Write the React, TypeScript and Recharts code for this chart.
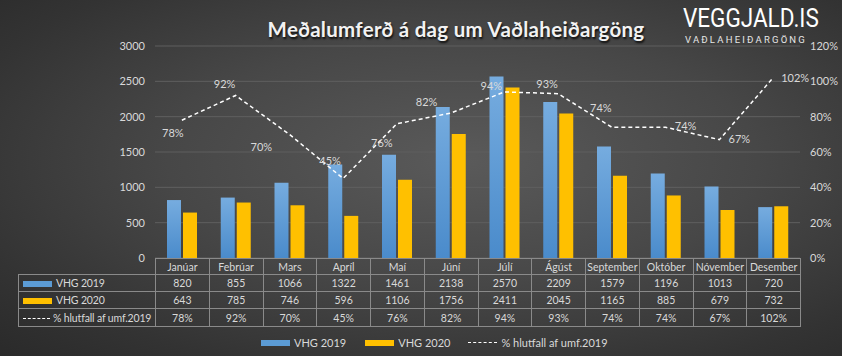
import React from 'react';
import {
  ComposedChart,
  Bar,
  Line,
  XAxis,
  YAxis,
  CartesianGrid,
  LabelList,
} from 'recharts';

const months = [
  'Janúar', 'Febrúar', 'Mars', 'Apríl', 'Maí', 'Júní',
  'Júlí', 'Ágúst', 'September', 'Október', 'Nóvember', 'Desember',
];
const vhg2019 = [820, 855, 1066, 1322, 1461, 2138, 2570, 2209, 1579, 1196, 1013, 720];
const vhg2020 = [643, 785, 746, 596, 1106, 1756, 2411, 2045, 1165, 885, 679, 732];
const hlutfall = [78, 92, 70, 45, 76, 82, 94, 93, 74, 74, 67, 102];
const leftTicks = [0, 500, 1000, 1500, 2000, 2500, 3000];
const rightTicks = [0, 20, 40, 60, 80, 100, 120];

const TEXT = '#d9d9d9';
const BLUE = '#5b9bd5';
const YELLOW = '#ffc000';
const BORDER = '#8a8a8a';
const FONT = 'Lato, "Open Sans", sans-serif';

// where Excel put each % label relative to its point
const labelOffsets: [number, number][] = [
  [-9, 14], [-11, -10], [-28, 14], [-13, -16], [-15, 20], [-24, -10],
  [-13, -5], [-11, -8], [-11, -18], [20, 0], [20, 1], [22, 1],
];

const PctLabel = (props: any) => {
  const { x, y, value, index } = props;
  const [dx, dy] = labelOffsets[index] || [0, -10];
  return (
    <text
      x={x + dx}
      y={y + dy}
      fill={TEXT}
      fontSize={11}
      textAnchor="middle"
      dominantBaseline="middle"
      fontFamily={FONT}
    >
      {value}%
    </text>
  );
};

const cell: React.CSSProperties = {
  border: `1px solid ${BORDER}`,
  textAlign: 'center',
  padding: 0,
  color: TEXT,
  fontSize: 10.5,
  whiteSpace: 'nowrap',
  overflow: 'hidden',
};

const labelCell: React.CSSProperties = {
  ...cell,
  textAlign: 'left',
  paddingLeft: 4,
  letterSpacing: -0.15,
};

const Swatch = ({ color, mr = 4 }: { color: string; mr?: number }) => (
  <span
    style={{
      display: 'inline-block',
      width: 29,
      height: 6,
      background: color,
      marginRight: mr,
      verticalAlign: 'middle',
    }}
  />
);

const Dash = ({ mr = 4, w = 29 }: { mr?: number; w?: number }) => (
  <span
    style={{
      display: 'inline-block',
      width: w,
      borderTop: '1.5px dashed #ffffff',
      marginRight: mr,
      verticalAlign: 'middle',
    }}
  />
);

export default function App() {
  const data = months.map((m, i) => ({
    month: m,
    v2019: vhg2019[i],
    v2020: vhg2020[i],
    pct: hlutfall[i],
  }));

  return (
    <div
      style={{
        position: 'absolute',
        left: 0,
        top: 0,
        width: 842,
        height: 356,
        overflow: 'hidden',
        fontFamily: FONT,
        background:
          'radial-gradient(ellipse at 55% 45%, #5a5a5a 0%, #474747 45%, #333333 80%, #2a2a2a 100%)',
      }}
    >
      <div
        style={{
          position: 'absolute',
          left: 206,
          width: 500,
          top: 17,
          textAlign: 'center',
          color: '#f2f2f2',
          fontWeight: 700,
          fontSize: 20.5,
          letterSpacing: 0.3,
          textShadow: '1px 2px 2px rgba(0,0,0,0.8)',
        }}
      >
        Meðalumferð á dag um Vaðlaheiðargöng
      </div>
      <div
        style={{
          position: 'absolute',
          left: 683,
          top: 5,
          color: '#ffffff',
          fontSize: 25,
          fontFamily: 'Roboto, sans-serif',
          lineHeight: '28px',
          whiteSpace: 'nowrap',
          transform: 'scaleX(0.9)',
          transformOrigin: 'left top',
        }}
      >
        VEGGJALD.IS
      </div>
      <div
        style={{
          position: 'absolute',
          left: 685,
          width: 140,
          top: 34,
          color: '#e6e6e6',
          fontSize: 9.5,
          letterSpacing: 2.2,
          fontFamily: 'Roboto, sans-serif',
          whiteSpace: 'nowrap',
        }}
      >
        VAÐLAHEIÐARGÖNG
      </div>

      <div style={{ position: 'absolute', left: 0, top: 0 }}>
        <ComposedChart
          width={842}
          height={272}
          data={data}
          margin={{ top: 46, right: 0, bottom: 14, left: 95 }}
          barGap={2}
          barSize={14}
        >
          <defs>
            <linearGradient id="blueGrad" x1="0" y1="0" x2="0" y2="1">
              <stop offset="0%" stopColor="#76acdf" />
              <stop offset="100%" stopColor="#4a8bcb" />
            </linearGradient>
          </defs>
          <CartesianGrid yAxisId="left" vertical={false} stroke="#5f5f5f" />
          <XAxis dataKey="month" hide />
          <YAxis
            yAxisId="left"
            domain={[0, 3000]}
            ticks={leftTicks}
            interval={0}
            width={60}
            axisLine={false}
            tickLine={false}
            tickMargin={4}
            tick={{ fill: TEXT, fontSize: 11, fontFamily: FONT }}
          />
          <YAxis
            yAxisId="right"
            orientation="right"
            domain={[0, 120]}
            ticks={rightTicks}
            interval={0}
            tickFormatter={(v: number) => `${v}%`}
            width={42}
            axisLine={false}
            tickLine={false}
            tickMargin={4}
            tick={{ fill: TEXT, fontSize: 11, fontFamily: FONT }}
          />
          <Bar
            yAxisId="left"
            dataKey="v2019"
            name="VHG 2019"
            fill="url(#blueGrad)"
            isAnimationActive={false}
          />
          <Bar
            yAxisId="left"
            dataKey="v2020"
            name="VHG 2020"
            fill={YELLOW}
            isAnimationActive={false}
          />
          <Line
            yAxisId="right"
            type="linear"
            dataKey="pct"
            name="% hlutfall af umf.2019"
            stroke="#ffffff"
            strokeWidth={1.5}
            strokeDasharray="4 3"
            dot={false}
            activeDot={false}
            isAnimationActive={false}
          >
            <LabelList dataKey="pct" content={<PctLabel />} />
          </Line>
        </ComposedChart>
      </div>

      <table
        style={{
          position: 'absolute',
          left: 18,
          top: 258,
          borderCollapse: 'collapse',
          tableLayout: 'fixed',
          width: 782,
          fontFamily: FONT,
        }}
      >
        <colgroup>
          <col style={{ width: 137 }} />
          {months.map((m) => (
            <col key={m} style={{ width: 53.75 }} />
          ))}
        </colgroup>
        <tbody>
          <tr style={{ height: 16 }}>
            <td style={{ padding: 0 }} />
            {months.map((m) => (
              <td key={m} style={cell}>
                {m}
              </td>
            ))}
          </tr>
          <tr style={{ height: 17 }}>
            <td style={labelCell}>
              <Swatch color={BLUE} />
              VHG 2019
            </td>
            {vhg2019.map((v, i) => (
              <td key={i} style={cell}>
                {v}
              </td>
            ))}
          </tr>
          <tr style={{ height: 17 }}>
            <td style={labelCell}>
              <Swatch color={YELLOW} />
              VHG 2020
            </td>
            {vhg2020.map((v, i) => (
              <td key={i} style={cell}>
                {v}
              </td>
            ))}
          </tr>
          <tr style={{ height: 18 }}>
            <td style={labelCell}>
              <Dash w={27} mr={3} />% hlutfall af umf.2019
            </td>
            {hlutfall.map((v, i) => (
              <td key={i} style={cell}>
                {v}%
              </td>
            ))}
          </tr>
        </tbody>
      </table>

      <div
        style={{
          position: 'absolute',
          left: 261,
          top: 336,
          display: 'flex',
          alignItems: 'center',
          color: TEXT,
          fontSize: 11,
          whiteSpace: 'nowrap',
        }}
      >
        <Swatch color={BLUE} mr={4} />
        <span style={{ marginRight: 19 }}>VHG 2019</span>
        <Swatch color={YELLOW} mr={4} />
        <span style={{ marginRight: 18 }}>VHG 2020</span>
        <Dash mr={4} />
        <span>% hlutfall af umf.2019</span>
      </div>
    </div>
  );
}
